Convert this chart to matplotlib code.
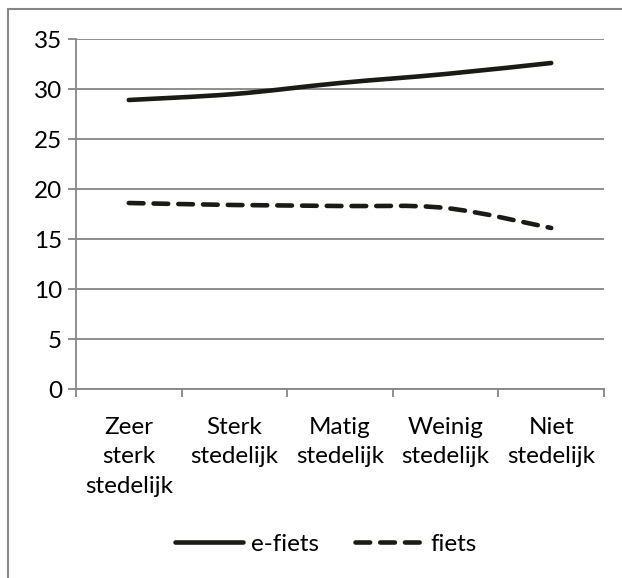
import matplotlib
matplotlib.use("Agg")
import matplotlib.pyplot as plt
from matplotlib.path import Path
from matplotlib.patches import PathPatch, Rectangle
from matplotlib.lines import Line2D
import numpy as np

plt.rcParams['font.family'] = ['Lato', 'DejaVu Sans']

categories = ["Zeer\nsterk\nstedelijk", "Sterk\nstedelijk", "Matig\nstedelijk",
              "Weinig\nstedelijk", "Niet\nstedelijk"]
e_fiets = [28.9, 29.5, 30.6, 31.5, 32.6]
fiets = [18.6, 18.4, 18.3, 18.1, 16.1]
y_ticks = [0, 5, 10, 15, 20, 25, 30, 35]

LINE_COLOR = "#1c1a14"
GRID_COLOR = "#868686"
FS = 17.5


def smooth_path(xs, ys):
    """Catmull-Rom style Bezier path through the points (smoothed line)."""
    xs = np.asarray(xs, float)
    ys = np.asarray(ys, float)
    n = len(xs)
    verts = [(xs[0], ys[0])]
    codes = [Path.MOVETO]
    for i in range(n - 1):
        p0 = (xs[max(i - 1, 0)], ys[max(i - 1, 0)])
        p1 = (xs[i], ys[i])
        p2 = (xs[i + 1], ys[i + 1])
        p3 = (xs[min(i + 2, n - 1)], ys[min(i + 2, n - 1)])
        c1 = (p1[0] + (p2[0] - p0[0]) / 6, p1[1] + (p2[1] - p0[1]) / 6)
        c2 = (p2[0] - (p3[0] - p1[0]) / 6, p2[1] - (p3[1] - p1[1]) / 6)
        verts += [c1, c2, p2]
        codes += [Path.CURVE4] * 3
    return Path(verts, codes)


fig = plt.figure(figsize=(6.22, 5.78), dpi=100)
W, H = 622, 578
ax = fig.add_axes([76 / W, 1 - 389 / H, (604 - 76) / W, (389 - 39) / H])

x = np.arange(len(categories))
ax.set_xlim(-0.5, len(categories) - 0.5)
ax.set_ylim(0, 35)

DASH = (0, (3.2, 2.2))
solid = PathPatch(smooth_path(x, e_fiets), fill=False, edgecolor=LINE_COLOR,
                  linewidth=3.3, capstyle='round', joinstyle='round', zorder=3)
ax.add_patch(solid)
dashed = PathPatch(smooth_path(x, fiets), fill=False, edgecolor=LINE_COLOR,
                   linewidth=3.3, linestyle=DASH, capstyle='round',
                   joinstyle='round', zorder=3)
ax.add_patch(dashed)

# Axes styling
ax.set_yticks(y_ticks)
ax.set_yticklabels([str(v) for v in y_ticks], fontsize=FS)
ax.yaxis.grid(True, color=GRID_COLOR, linewidth=1.3)
ax.set_axisbelow(True)

ax.set_xticks(np.arange(len(categories) + 1) - 0.5)
ax.set_xticklabels([])
ax.set_xticks(x, minor=True)
ax.set_xticklabels(categories, minor=True, fontsize=FS, linespacing=1.5,
                   va='top')
ax.tick_params(axis='x', which='minor', length=0, pad=20)
ax.tick_params(axis='x', which='major', length=6, width=1.3, color=GRID_COLOR)
ax.tick_params(axis='y', length=6, width=1.3, color=GRID_COLOR, pad=4)

for side in ['top', 'right']:
    ax.spines[side].set_visible(False)
for side in ['left', 'bottom']:
    ax.spines[side].set_color(GRID_COLOR)
    ax.spines[side].set_linewidth(1.3)

handles = [
    Line2D([], [], color=LINE_COLOR, linewidth=3.3, solid_capstyle='round'),
    Line2D([], [], color=LINE_COLOR, linewidth=3.3, linestyle=DASH,
           dash_capstyle='round'),
]
fig.legend(handles, ["e-fiets", "fiets"], loc='center',
           bbox_to_anchor=(326 / W, 1 - 544 / H), ncol=2, frameon=False,
           fontsize=FS, handlelength=2.8, handletextpad=0.3, columnspacing=1.5)

# Chart area border
fig.add_artist(Rectangle((8 / W, -0.1), 1.2, 1 - 9 / H + 0.1,
                         transform=fig.transFigure, fill=False,
                         edgecolor=GRID_COLOR, linewidth=1.5))

fig.savefig("out.png", dpi=100)
